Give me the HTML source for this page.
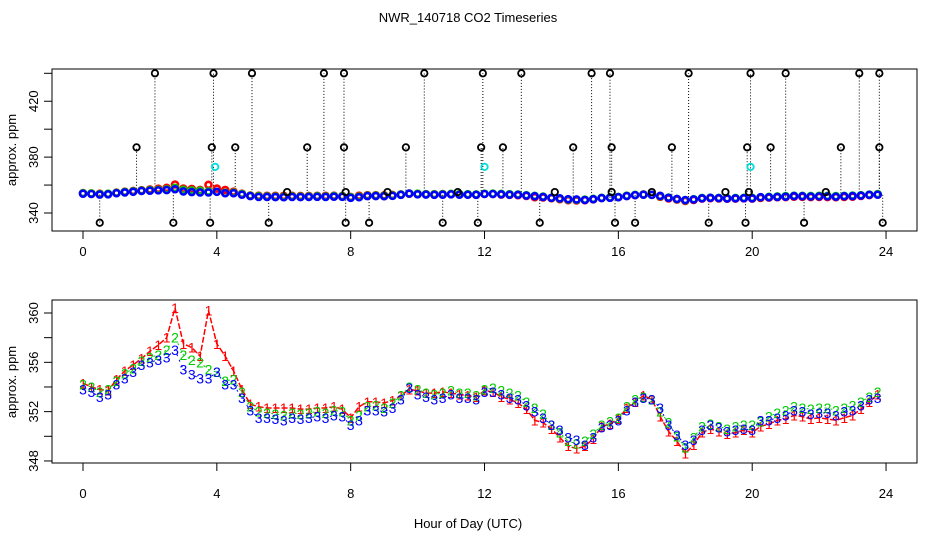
<!DOCTYPE html>
<html><head><meta charset="utf-8">
<style>
body{margin:0;background:#fff;}
svg{display:block;font-family:"Liberation Sans",sans-serif;}
</style></head>
<body>
<svg id="chart" width="936" height="540" viewBox="0 0 936 540" xmlns="http://www.w3.org/2000/svg">
<text x="468" y="22" font-size="13" text-anchor="middle">NWR_140718  CO2 Timeseries</text>
<text x="468" y="528" font-size="13" text-anchor="middle">Hour of Day (UTC)</text>
<text x="0" y="0" font-size="13" text-anchor="middle" transform="translate(16,150) rotate(-90)">approx. ppm</text>
<text x="0" y="0" font-size="13" text-anchor="middle" transform="translate(16,382) rotate(-90)">approx. ppm</text>
<rect x="52" y="69" width="865" height="162" fill="none" stroke="#000"/>
<rect x="52" y="300" width="865" height="163" fill="none" stroke="#000"/>
<g id="axes"></g>
<g id="top-marks"></g>
<g id="bottom-marks"></g>
</svg>
<script>
const xTicks = [0,4,8,12,16,20,24];
const topYTicks = [340,360,380,400,420,440];
const topYLabels = ["340","","380","","420",""];
const botYTicks = [348,350,352,354,356,358,360];
const botYLabels = ["348","","352","","356","","360"];
const step = 0.25;
const s3 = [353.8,353.6,353.2,353.4,354.2,354.7,355.2,355.8,
356.0,356.2,356.4,357.0,355.4,355.0,354.7,354.7,
355.2,354.2,354.2,353.1,352.1,351.5,351.5,351.4,
351.3,351.5,351.4,351.5,351.6,351.5,351.7,351.6,
350.9,351.3,352.1,352.1,352.0,352.3,353.0,353.9,
353.4,353.2,353.0,353.1,353.4,353.1,353.1,353.0,
353.6,353.6,353.4,353.1,353.0,352.5,352.0,351.5,
350.9,350.5,349.9,349.7,349.3,349.9,350.7,350.9,
351.3,352.1,352.8,353.1,353.0,352.3,350.9,350.1,
349.3,349.7,350.5,350.9,350.7,350.4,350.5,350.6,
350.5,351.3,351.3,351.5,351.7,352.1,352.0,351.8,
351.9,351.9,351.7,352.0,352.1,352.5,353.0,353.1];
const s2 = [354.2,354.0,353.6,353.8,354.5,355.1,355.5,356.1,
356.4,356.6,357.0,358.0,356.6,356.2,356.0,355.4,
355.2,354.5,354.6,353.6,352.4,352.0,351.9,351.8,
351.7,351.9,351.8,351.9,352.0,351.9,352.1,352.0,
351.3,351.7,352.4,352.5,352.3,352.7,353.3,354.0,
353.8,353.5,353.4,353.5,353.7,353.5,353.5,353.3,
353.8,353.9,353.7,353.5,353.3,352.8,352.3,351.8,
350.9,350.3,349.6,349.4,349.6,350.2,350.9,351.2,
351.5,352.4,353.0,353.2,353.0,352.0,351.1,350.0,
349.1,349.9,350.8,351.0,350.8,350.6,350.8,350.9,
350.9,351.2,351.6,351.9,352.1,352.4,352.3,352.2,
352.3,352.3,352.1,352.3,352.5,352.8,353.2,353.6];
const s1 = [354.3,354.0,353.8,353.7,354.6,355.3,355.8,356.3,
356.9,357.4,358.0,360.4,357.5,357.2,356.5,360.2,
357.5,356.5,355.3,353.8,352.6,352.4,352.3,352.3,
352.3,352.3,352.2,352.2,352.3,352.3,352.4,352.2,
351.5,352.4,352.8,352.8,352.7,352.9,353.3,353.8,
353.7,353.5,353.5,353.6,353.5,353.4,353.3,353.2,
353.7,353.6,353.2,353.0,352.7,352.2,351.3,351.1,
350.6,349.9,349.2,349.0,349.2,349.8,350.8,351.0,
351.4,352.3,352.8,353.3,353.0,351.6,350.4,349.6,
348.6,349.3,350.3,350.6,350.4,350.2,350.3,350.5,
350.3,350.8,351.0,351.3,351.4,351.7,351.6,351.4,
351.5,351.4,351.3,351.5,351.7,352.2,352.8,353.4];
const highHours = [2.15,3.9,5.05,7.2,7.8,10.2,11.95,13.1,15.2,15.75,18.1,19.95,21.0,23.2,23.8];
const highVal = 440;
const midHours = [1.6,3.85,4.55,6.7,7.8,9.65,11.9,12.55,14.65,15.8,17.6,19.85,20.55,22.65,23.8];
const midVal = 387;
const lowHours = [0.5,2.7,3.8,5.55,7.85,8.55,10.75,11.8,13.65,15.9,16.5,18.7,19.8,21.55,23.9];
const lowVal = 333;
const nearHours = [6.1,9.1,11.2,14.1,17.0,19.2,19.9,22.2,7.85,15.8];
const nearVal = 355;
const cyanHours = [3.95,12.0,19.95];
const cyanVal = 373;

const NS="http://www.w3.org/2000/svg";
const xS = h => 83 + h*33.46;
const yTop = v => 73.3 + (440-v)*1.397;
const yBot = v => 313 + (360-v)*12.33;
function mk(tag, parent){const e=document.createElementNS(NS,tag);parent.appendChild(e);return e;}
const axes=document.getElementById('axes');
const topG=document.getElementById('top-marks');
const botG=document.getElementById('bottom-marks');

[[231,252],[463,494]].forEach(([by,ly])=>{
  xTicks.forEach(t=>{
    const tk=mk('line',axes);
    
    
    tk.setAttribute('x1',xS(t));tk.setAttribute('x2',xS(t));tk.setAttribute('y1',by);tk.setAttribute('y2',by+8);tk.setAttribute('stroke','#000');
    const tx=mk('text',axes);
    
    
    tx.setAttribute('x',xS(t));tx.setAttribute('y',ly+4);tx.setAttribute('font-size','13');tx.setAttribute('text-anchor','middle');
    tx.textContent=t;
  });
});
function yAxis(ticks,labels,ys){
  ticks.forEach((t,i)=>{
    const y=ys(t);
    const tk=mk('line',axes);
    
    
    tk.setAttribute('x1',44);tk.setAttribute('x2',52);tk.setAttribute('y1',y);tk.setAttribute('y2',y);tk.setAttribute('stroke','#000');
    if(labels[i]){
      const tx=mk('text',axes);
      
      
      tx.setAttribute('font-size','13');tx.setAttribute('text-anchor','middle');
      tx.setAttribute('transform','translate(38,'+y+') rotate(-90)');
      tx.textContent=labels[i];
    }
  });
}
yAxis(topYTicks,topYLabels,yTop);
yAxis(botYTicks,botYLabels,yBot);

function outlier(hours,val,color,name){
  hours.forEach(h=>{
    const idx=Math.min(95,Math.round(h/step));
    const ln=mk('line',topG);
    
    
    ln.setAttribute('x1',xS(h));ln.setAttribute('x2',xS(h));ln.setAttribute('y1',yTop(s3[idx]));ln.setAttribute('y2',yTop(val));
    ln.setAttribute('stroke','#000');ln.setAttribute('stroke-dasharray','1,2');
    const c=mk('circle',topG);
    
    
    c.setAttribute('cx',xS(h));c.setAttribute('cy',yTop(val));c.setAttribute('r',3.2);
    c.setAttribute('fill','none');c.setAttribute('stroke',color);c.setAttribute('stroke-width','1.8');
  });
}
outlier(highHours,highVal,'#000','high-outlier');
outlier(midHours,midVal,'#000','mid-outlier');
outlier(lowHours,lowVal,'#000','low-outlier');

const series=[[s1,'#ff0000','1'],[s2,'#00cc00','2'],[s3,'#0000ff','3']];
series.forEach(([arr,col,lab])=>{
  arr.forEach((v,i)=>{
    const c=mk('circle',topG);
    
    
    c.setAttribute('cx',xS(i*step));c.setAttribute('cy',yTop(v));c.setAttribute('r',3);
    c.setAttribute('fill','none');c.setAttribute('stroke',col);c.setAttribute('stroke-width','2.6');
  });
});
nearHours.forEach(h=>{
  const c=mk('circle',topG);
  
  
  c.setAttribute('cx',xS(h));c.setAttribute('cy',yTop(nearVal));c.setAttribute('r',3.2);
  c.setAttribute('fill','none');c.setAttribute('stroke','#000');c.setAttribute('stroke-width','1.8');
});
cyanHours.forEach(h=>{
  const c=mk('circle',topG);
  
  
  c.setAttribute('cx',xS(h));c.setAttribute('cy',yTop(cyanVal));c.setAttribute('r',3.2);
  c.setAttribute('fill','none');c.setAttribute('stroke','#00dddd');c.setAttribute('stroke-width','1.8');
});

series.forEach(([arr,col,lab],si)=>{
  const pl=mk('polyline',botG);
  
  
  pl.setAttribute('points',arr.map((v,i)=>xS(i*step)+','+yBot(v)).join(' '));
  pl.setAttribute('fill','none');pl.setAttribute('stroke',col);
  pl.setAttribute('stroke-width',si===0?'1.5':'1');
  pl.setAttribute('stroke-dasharray',si===0?'6,2':'2,4');
  arr.forEach((v,i)=>{
    const t=mk('text',botG);
    
    
    t.setAttribute('x',xS(i*step));t.setAttribute('y',yBot(v)+5);
    t.setAttribute('font-size','14');t.setAttribute('text-anchor','middle');t.setAttribute('fill',col);
    t.textContent=lab;
  });
});
</script>
</body></html>
